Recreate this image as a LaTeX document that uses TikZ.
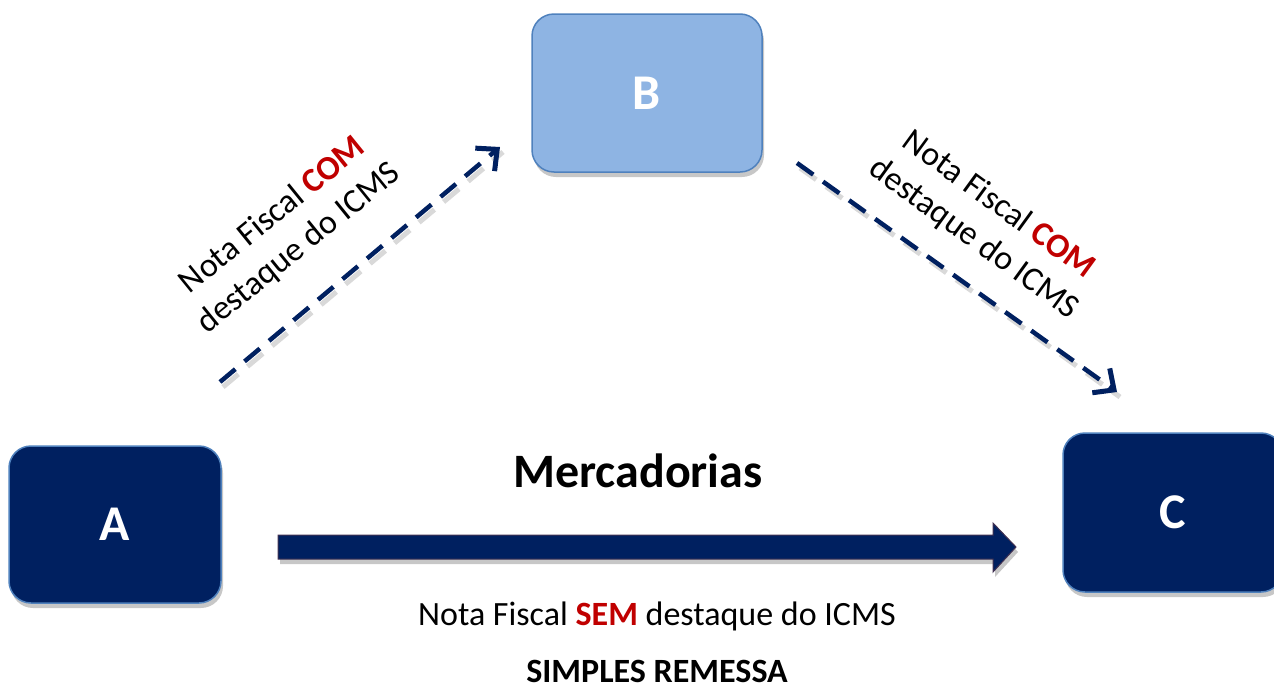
\documentclass[tikz,border=0pt]{standalone}
\usepackage{fontspec}
\setmainfont{Carlito}
\usetikzlibrary{arrows.meta,shadows}
\definecolor{navy}{HTML}{002060}
\definecolor{lblue}{HTML}{8EB4E3}
\definecolor{bborder}{HTML}{4F81BD}
\definecolor{redc}{HTML}{C00000}
\definecolor{arrowborder}{HTML}{403152}
\begin{document}
\begin{tikzpicture}[x=1pt,y=-1pt,
  box/.style={rounded corners=22pt, draw=bborder, line width=1.5pt, text=white,
    font=\bfseries\fontsize{50}{56}\selectfont,
    drop shadow={shadow xshift=2pt,shadow yshift=-5pt,opacity=0.22,fill=black}},
  lbl/.style={align=center, font=\fontsize{34}{42}\selectfont, inner sep=0pt},
  dasharrow/.style={draw=navy, line width=4.5pt, dash pattern=on 20pt off 12pt,
    -{Straight Barb[length=16pt,width=30pt,line width=5pt]}},
  dashshadow/.style={draw=black!25, line width=5pt, dash pattern=on 20pt off 12pt, opacity=0.6}
]
\useasboundingbox (0,0) rectangle (1274,683);
\clip (0,0) rectangle (1274,683);

% boxes
\node[box, fill=navy, minimum width=212pt, minimum height=157pt] (A) at (115,524.5) {A};
\node[box, fill=lblue, minimum width=230pt, minimum height=158pt] (B) at (647,93) {B};
\node[box, fill=navy, minimum width=220pt, minimum height=159pt] (C) at (1173,512.5) {C};

% dashed connectors
\coordinate (ls) at (220,382);
\coordinate (le) at (500,147);
\coordinate (rs) at (797,163);
\coordinate (re) at (1117,392);
\draw[dashshadow] ([shift={(3,5)}]ls) -- ([shift={(3,5)}]le);
\draw[dashshadow] ([shift={(3,5)}]rs) -- ([shift={(3,5)}]re);
\draw[dasharrow] (ls) -- (le);
\draw[dasharrow] (rs) -- (re);

% labels of dashed connectors
\node[lbl, rotate=39] (l1) at (286,232) {Nota Fiscal \textcolor{redc}{\textbf{COM}}\\destaque do ICMS};
\node[lbl, rotate=-36] (l2) at (986,222) {Nota Fiscal \textcolor{redc}{\textbf{COM}}\\destaque do ICMS};

% big arrow A -> C
\coordinate (bs) at (278,547);
\coordinate (bt) at (1016,547);
\fill[black, opacity=0.22] ([shift={(2,5)}]bs) ++(0,-12) -- ++(715,0) -- ++(0,-12) -- ([shift={(2,5)}]bt) -- ++(-23,25) -- ++(0,-13) -- ++(-715,0) -- cycle;
\draw[fill=navy, draw=arrowborder, line width=1pt] (bs) ++(0,-12) -- ++(715,0) -- ++(0,-12) -- (bt) -- ++(-23,25) -- ++(0,-13) -- ++(-715,0) -- cycle;

% texts
\node[anchor=base, font=\bfseries\fontsize{48}{56}\selectfont] (merc) at (638,487) {Mercadorias};
\node[anchor=base, font=\fontsize{34}{40}\selectfont] (nf) at (657,625) {Nota Fiscal \textcolor{redc}{\textbf{SEM}} destaque do ICMS};
\node[anchor=base, font=\bfseries\fontsize{34}{40}\selectfont] (sr) at (657,682) {SIMPLES REMESSA};
\end{tikzpicture}
\end{document}
